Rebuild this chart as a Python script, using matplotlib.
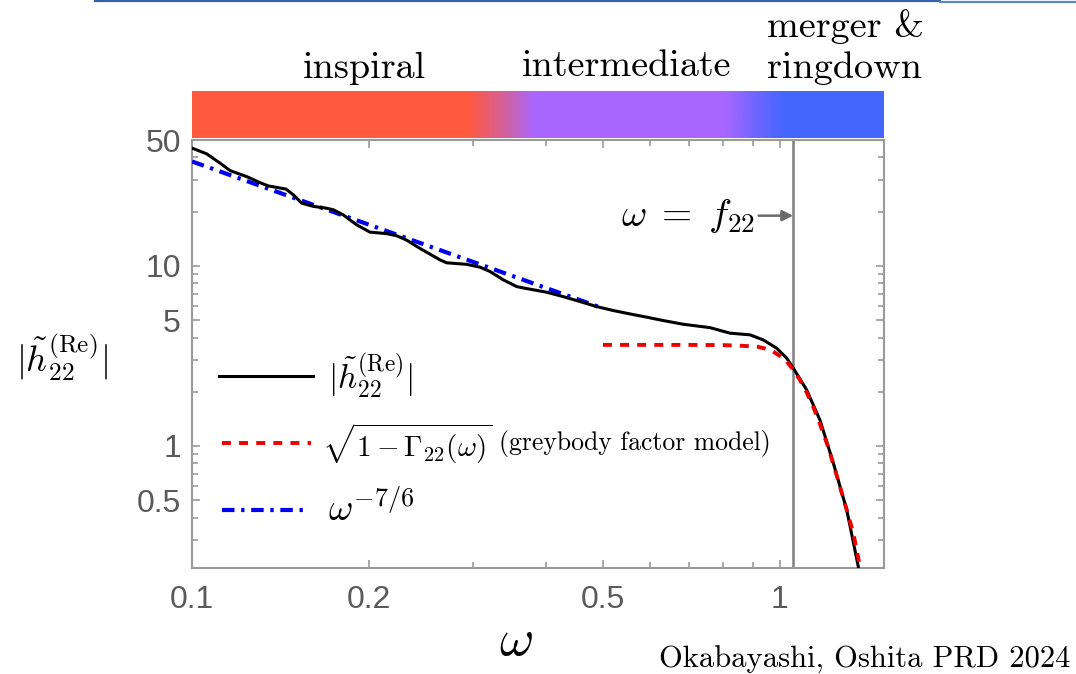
import matplotlib
matplotlib.use("Agg")
import matplotlib.pyplot as plt
import numpy as np
from matplotlib.colors import LinearSegmentedColormap
from matplotlib.lines import Line2D
from matplotlib.ticker import FixedLocator, NullFormatter, LogLocator

plt.rcParams["mathtext.fontset"] = "cm"

# |h~_22^(Re)| spectrum
omega_h = [0.100, 0.1059, 0.1116, 0.1161, 0.1239, 0.1305, 0.1348, 0.1445, 0.1487,
           0.1537, 0.1608, 0.1694, 0.1739, 0.1808, 0.1906, 0.2007, 0.2143, 0.2229,
           0.2318, 0.2442, 0.2641, 0.2711, 0.2932, 0.3090, 0.3213, 0.3385, 0.3567,
           0.3709, 0.4010, 0.4279, 0.4569, 0.4879, 0.5206, 0.5556, 0.5933, 0.6331,
           0.6847, 0.7603, 0.8222, 0.8892, 0.9367, 0.9872, 1.027, 1.054, 1.110,
           1.170, 1.233, 1.299, 1.359]
h_re = [45.1, 41.9, 37.2, 33.8, 31.3, 29.0, 27.8, 26.7, 24.8,
        22.3, 21.4, 20.9, 20.5, 19.2, 16.9, 15.4, 15.1, 14.7,
        13.9, 12.5, 10.8, 10.4, 10.2, 9.83, 9.30, 8.36, 7.67,
        7.48, 7.14, 6.75, 6.34, 5.94, 5.65, 5.41, 5.19, 4.97,
        4.74, 4.54, 4.23, 4.14, 3.88, 3.49, 3.07, 2.70, 2.05,
        1.39, 0.80, 0.441, 0.214]

# greybody factor model sqrt(1 - Gamma_22)
omega_gb = [0.50, 0.60, 0.70, 0.80, 0.86, 0.914, 0.945, 0.974, 1.000, 1.027,
            1.054, 1.081, 1.110, 1.139, 1.170, 1.201, 1.233, 1.265, 1.299,
            1.333, 1.368]
gb_model = [3.64, 3.64, 3.64, 3.63, 3.60, 3.56, 3.47, 3.34, 3.16, 2.94,
            2.65, 2.33, 1.99, 1.65, 1.32, 1.04, 0.79, 0.594, 0.44,
            0.327, 0.214]

# omega^(-7/6) inspiral scaling
omega_pn = [0.10, 0.49]
pn_fit = [38.0, 5.95]

f22 = 1.053

x_ticks = [0.1, 0.2, 0.5, 1]
x_ticklabels = ["0.1", "0.2", "0.5", "1"]
y_ticks = [0.5, 1, 5, 10, 50]
y_ticklabels = ["0.5", "1", "5", "10", "50"]

W, H = 1076, 674
fig = plt.figure(figsize=(W / 100, H / 100), dpi=100)


def fx(px):
    return px / W


def fy(py):
    return 1 - py / H


# header rule
fig.add_artist(Line2D([fx(95), fx(940)], [fy(1.2), fy(1.2)], color="#3562a8", lw=1.6))
fig.add_artist(Line2D([fx(940), fx(1076)], [fy(2.2), fy(2.2)], color="#5c88c4", lw=1.6))

ax = fig.add_axes([fx(192), fy(568), fx(884) - fx(192), fy(140) - fy(568)])
ax.set_xscale("log")
ax.set_yscale("log")
ax.set_xlim(0.1, 1.503)
ax.set_ylim(0.21, 50)

ax.plot(omega_pn, pn_fit, color="#0000ee", lw=3.0, dashes=(3.0, 1.6, 0.8, 1.6),
        solid_capstyle="butt", zorder=3)
ax.plot(omega_h, h_re, color="black", lw=2.2, solid_joinstyle="round", zorder=4)
ax.plot(omega_gb, gb_model, color="#ee0000", lw=2.8, dashes=(2.3, 2.1), zorder=5)
ax.axvline(f22, color="#808080", lw=1.8, zorder=2)

ax.annotate(r"$\omega\;=\;f_{22}$", xy=(f22, 19.0), xytext=(0.905, 19.0),
            ha="right", va="center", fontsize=28,
            arrowprops=dict(arrowstyle="-|>", color="#6a6a6a", lw=1.8,
                            shrinkA=1, shrinkB=0, mutation_scale=16))

# axes styling
for s in ax.spines.values():
    s.set_color("#9a9a9a")
    s.set_linewidth(1.5)
ax.xaxis.set_major_locator(FixedLocator(x_ticks))
ax.set_xticklabels(x_ticklabels)
ax.xaxis.set_minor_locator(LogLocator(base=10, subs=np.arange(2, 10)))
ax.xaxis.set_minor_formatter(NullFormatter())
ax.yaxis.set_major_locator(FixedLocator(y_ticks))
ax.set_yticklabels(y_ticklabels)
ax.yaxis.set_minor_locator(LogLocator(base=10, subs=np.arange(2, 10)))
ax.yaxis.set_minor_formatter(NullFormatter())
ax.tick_params(which="both", direction="in", top=True, right=True, color="#9a9a9a", width=1.2)
ax.tick_params(which="major", length=6)
ax.tick_params(which="minor", length=4)
ax.tick_params(axis="x", which="major", pad=12)
ax.tick_params(axis="y", which="major", pad=8)
for lab in ax.get_xticklabels() + ax.get_yticklabels():
    lab.set_fontfamily("Liberation Sans")
    lab.set_fontsize(23)
    lab.set_color("#5a5a5a")

# legend
tr = ax.transAxes
ax.plot([0.039, 0.175], [0.4486, 0.4486], transform=tr, color="black", lw=2.2, clip_on=False)
ax.plot([0.043, 0.172], [0.291, 0.291], transform=tr, color="#ee0000", lw=2.8,
        dashes=(2.3, 2.1), clip_on=False)
ax.plot([0.043, 0.168], [0.1355, 0.1355], transform=tr, color="#0000ee", lw=3.0,
        dashes=(3.0, 1.6, 0.8, 1.6), clip_on=False)
ax.text(0.196, 0.4486, r"$|\tilde{h}_{22}^{(\mathrm{Re})}|$", transform=tr,
        fontsize=24, va="center", ha="left")
ax.text(0.188, 0.291, r"$\sqrt{1-\Gamma_{22}(\omega)}$", transform=tr,
        fontsize=21, va="center", ha="left")
ax.text(0.443, 0.291, "(greybody factor model)", transform=tr, fontfamily="cmr10",
        fontsize=18.5, va="center", ha="left")
ax.text(0.196, 0.1355, r"$\omega^{-7/6}$", transform=tr,
        fontsize=27, va="center", ha="left")

# phase colour bar
bar = fig.add_axes([fx(192), fy(138), fx(884) - fx(192), fy(91) - fy(138)])
phase_cmap = LinearSegmentedColormap.from_list(
    "phase",
    [(0.0, "#ff5a40"), (0.40, "#ff5a40"), (0.445, "#d8608e"), (0.495, "#a966ff"),
     (0.77, "#a966ff"), (0.83, "#5e66ff"), (0.86, "#4366ff"), (1.0, "#4366ff")])
bar.imshow(np.linspace(0, 1, 512)[None, :], aspect="auto", cmap=phase_cmap,
           extent=(0, 1, 0, 1))
bar.set_axis_off()

fig.text(fx(303), fy(78), "inspiral", fontfamily="cmr10", fontsize=27.5, va="baseline")
fig.text(fx(522), fy(76), "intermediate", fontfamily="cmr10", fontsize=27.5, va="baseline")
fig.text(fx(767), fy(37), "merger &", fontfamily="cmr10", fontsize=27.5, va="baseline")
fig.text(fx(767), fy(78), "ringdown", fontfamily="cmr10", fontsize=27.5, va="baseline")

# axis labels
fig.text(fx(62), fy(358), r"$|\tilde{h}_{22}^{(\mathrm{Re})}|$", fontsize=26,
         ha="center", va="center")
fig.text(fx(516), fy(640), r"$\omega$", fontsize=38, ha="center", va="center")

fig.text(fx(1070), fy(668), "Okabayashi, Oshita PRD 2024", fontfamily="cmr10",
         fontsize=22, ha="right", va="baseline")

fig.savefig("out.png", dpi=100)
